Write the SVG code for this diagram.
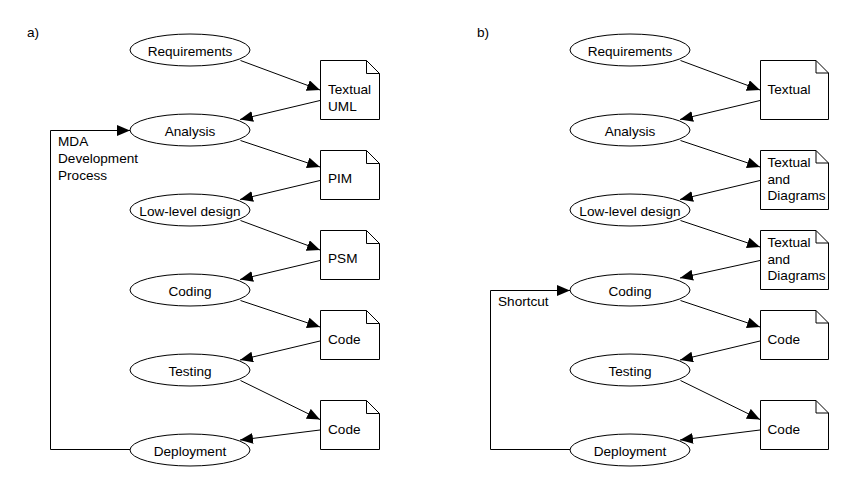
<svg xmlns="http://www.w3.org/2000/svg" width="850" height="490" viewBox="0 0 850 490">
<style>
text{font-family:"Liberation Sans",Arial,sans-serif;font-size:13.6px;fill:#000}
.c{text-anchor:middle}
ellipse,.doc{fill:#fff;stroke:#000;stroke-width:1}
.fold{fill:none;stroke:#000;stroke-width:1}
.e{fill:none;stroke:#000;stroke-width:1;marker-end:url(#ah)}
</style>
<defs>
<marker id="ah" markerUnits="userSpaceOnUse" markerWidth="14" markerHeight="12" refX="13" refY="5.5" orient="auto"><path d="M0,0 L13,5.5 L0,11 Z" fill="#000"/></marker>
</defs>
<rect width="850" height="490" fill="#fff"/>
<text x="27" y="37">a)</text>
<text x="477" y="37">b)</text>
<g id="connectors">
<path class="e" d="M240.5,60.5 L320,90"/>
<path class="e" d="M320,100.5 L240,119.5"/>
<path class="e" d="M240.5,140.5 L320,167"/>
<path class="e" d="M320,180.5 L240,199.5"/>
<path class="e" d="M240.5,220.5 L320,250"/>
<path class="e" d="M320,260.5 L240,279.5"/>
<path class="e" d="M240.5,300.5 L320,327"/>
<path class="e" d="M320,341 L240,360"/>
<path class="e" d="M240.5,380.5 L320,419.5"/>
<path class="e" d="M320,430 L240,440"/>
<path class="e" d="M130,449.5 H50.5 V130.5 H130"/>
<path class="e" d="M680.5,60.5 L760,90"/>
<path class="e" d="M760,100.5 L680,119.5"/>
<path class="e" d="M680.5,140.5 L760,167"/>
<path class="e" d="M760,180.5 L680,199.5"/>
<path class="e" d="M680.5,220.5 L760,247"/>
<path class="e" d="M760,260.5 L680,278"/>
<path class="e" d="M680.5,300.5 L760,327"/>
<path class="e" d="M760,341 L680,360"/>
<path class="e" d="M680.5,380.5 L760,419.5"/>
<path class="e" d="M760,430 L680,440"/>
<path class="e" d="M570,449.5 H490.5 V290.5 H570"/>
</g>
<text x="58" y="146">MDA</text>
<text x="58" y="163">Development</text>
<text x="58" y="180">Process</text>
<text x="498" y="306">Shortcut</text>
<g id="a-requirements"><ellipse cx="190" cy="50" rx="60" ry="16"/><text class="c" x="190" y="55.5">Requirements</text></g>
<g id="a-analysis"><ellipse cx="190" cy="130" rx="60" ry="16"/><text class="c" x="190" y="135.5">Analysis</text></g>
<g id="a-lowlevel"><ellipse cx="190" cy="210" rx="60" ry="16"/><text class="c" x="190" y="215.5">Low-level design</text></g>
<g id="a-coding"><ellipse cx="190" cy="290" rx="60" ry="16"/><text class="c" x="190" y="295.5">Coding</text></g>
<g id="a-testing"><ellipse cx="190" cy="370" rx="60" ry="16"/><text class="c" x="190" y="375.5">Testing</text></g>
<g id="a-deployment"><ellipse cx="190" cy="450" rx="60" ry="16"/><text class="c" x="190" y="455.5">Deployment</text></g>
<g id="a-doc-uml"><path class="doc" d="M320.5,60.5 H366.5 L379.5,73.5 V119.5 H320.5 Z"/><path class="fold" d="M366.5,60.5 V73.5 H379.5"/><text x="328" y="94">Textual</text><text x="328" y="111">UML</text></g>
<g id="a-doc-pim"><path class="doc" d="M320.5,150.5 H366.5 L379.5,163.5 V199.5 H320.5 Z"/><path class="fold" d="M366.5,150.5 V163.5 H379.5"/><text x="328" y="183">PIM</text></g>
<g id="a-doc-psm"><path class="doc" d="M320.5,230.5 H366.5 L379.5,243.5 V279.5 H320.5 Z"/><path class="fold" d="M366.5,230.5 V243.5 H379.5"/><text x="328" y="263">PSM</text></g>
<g id="a-doc-code1"><path class="doc" d="M320.5,310.5 H366.5 L379.5,323.5 V359.5 H320.5 Z"/><path class="fold" d="M366.5,310.5 V323.5 H379.5"/><text x="328" y="344">Code</text></g>
<g id="a-doc-code2"><path class="doc" d="M320.5,400.5 H366.5 L379.5,413.5 V449.5 H320.5 Z"/><path class="fold" d="M366.5,400.5 V413.5 H379.5"/><text x="328" y="434">Code</text></g>
<g id="b-requirements"><ellipse cx="630" cy="50" rx="60" ry="16"/><text class="c" x="630" y="55.5">Requirements</text></g>
<g id="b-analysis"><ellipse cx="630" cy="130" rx="60" ry="16"/><text class="c" x="630" y="135.5">Analysis</text></g>
<g id="b-lowlevel"><ellipse cx="630" cy="210" rx="60" ry="16"/><text class="c" x="630" y="215.5">Low-level design</text></g>
<g id="b-coding"><ellipse cx="630" cy="290" rx="60" ry="16"/><text class="c" x="630" y="295.5">Coding</text></g>
<g id="b-testing"><ellipse cx="630" cy="370" rx="60" ry="16"/><text class="c" x="630" y="375.5">Testing</text></g>
<g id="b-deployment"><ellipse cx="630" cy="450" rx="60" ry="16"/><text class="c" x="630" y="455.5">Deployment</text></g>
<g id="b-doc-textual"><path class="doc" d="M760.5,60.5 H816 L828.5,73 V119.5 H760.5 Z"/><path class="fold" d="M816,60.5 V73 H828.5"/><text x="767.5" y="94">Textual</text></g>
<g id="b-doc-td1"><path class="doc" d="M760.5,150.5 H816 L828.5,163 V209.5 H760.5 Z"/><path class="fold" d="M816,150.5 V163 H828.5"/><text x="767.5" y="167">Textual</text><text x="767.5" y="183.5">and</text><text x="767.5" y="200">Diagrams</text></g>
<g id="b-doc-td2"><path class="doc" d="M760.5,230.5 H816 L828.5,243 V289.5 H760.5 Z"/><path class="fold" d="M816,230.5 V243 H828.5"/><text x="767.5" y="247">Textual</text><text x="767.5" y="263.5">and</text><text x="767.5" y="280">Diagrams</text></g>
<g id="b-doc-code1"><path class="doc" d="M760.5,310.5 H816 L828.5,323 V359.5 H760.5 Z"/><path class="fold" d="M816,310.5 V323 H828.5"/><text x="767.5" y="344">Code</text></g>
<g id="b-doc-code2"><path class="doc" d="M760.5,400.5 H816 L828.5,413 V449.5 H760.5 Z"/><path class="fold" d="M816,400.5 V413 H828.5"/><text x="767.5" y="434">Code</text></g>
</svg>
